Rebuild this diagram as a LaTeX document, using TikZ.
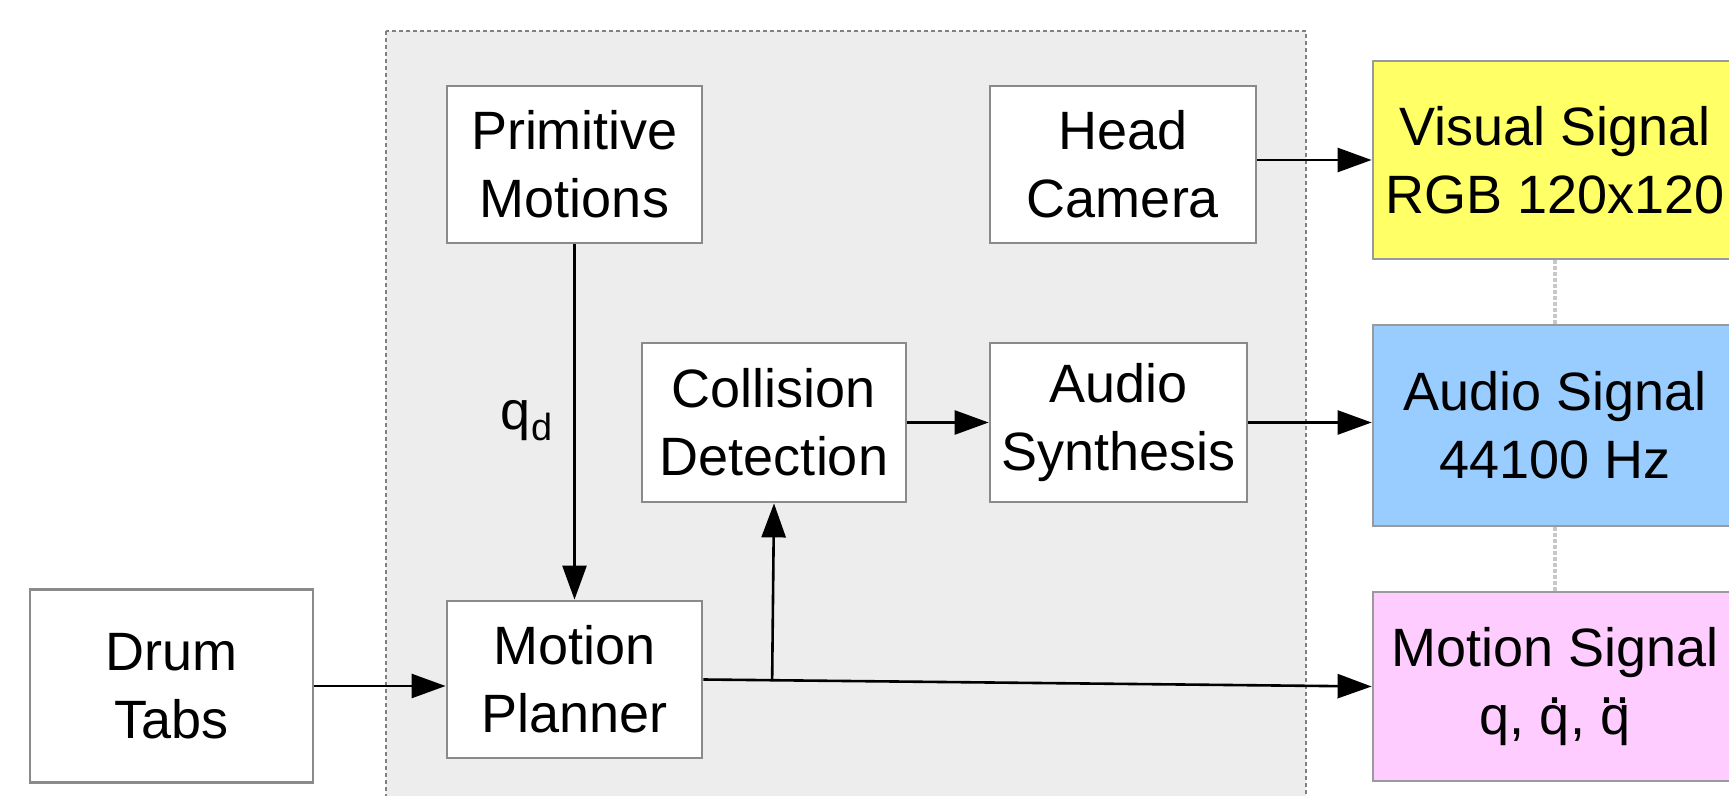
\documentclass[tikz,border=0pt]{standalone}
\usepackage{fontspec}
\setmainfont{Liberation Sans}
\usetikzlibrary{arrows.meta,calc}
\definecolor{bgfill}{HTML}{EDEDED}
\definecolor{bgline}{HTML}{808080}
\definecolor{boxgray}{HTML}{8A8A8A}
\definecolor{siggray}{HTML}{9A9A9A}
\definecolor{visfill}{HTML}{FFFF66}
\definecolor{audfill}{HTML}{99CCFF}
\definecolor{motfill}{HTML}{FFCCFF}
\definecolor{sepgray}{HTML}{C8C8C8}
\newcommand\qdotone{{\setbox0\hbox{q}\rlap{q}\hbox to\wd0{\hss\raisebox{0.58em}{.}\hss}}}
\newcommand\qdottwo{{\setbox0\hbox{q}\rlap{q}\hbox to\wd0{\hss\raisebox{0.58em}{.\kern0.03em.}\hss}}}
\begin{document}
\begin{tikzpicture}[x=0.5pt,y=-0.5pt,
  box/.style={draw=boxgray, line width=1.4pt, fill=white, align=center, inner sep=0pt,
    font=\fontsize{27pt}{34pt}\selectfont},
  sigbox/.style={box, draw=siggray, minimum width=182pt},
  conn/.style={line width=1.3pt, draw=black, -{Triangle[length=17pt,width=12pt]}},
  sep/.style={draw=sepgray, line width=2pt, dash pattern=on 2pt off 1pt},
  lbl/.style={inner sep=0pt, font=\fontsize{27pt}{34pt}\selectfont}
]
\useasboundingbox (0,0) rectangle (1729,796);
% background region
\path[fill=bgfill, draw=bgline, line width=1pt, dash pattern=on 2pt off 1.5pt]
  (386,31) rectangle (1306,810);
% nodes
\node[box, minimum width=127.5pt, minimum height=78.5pt] (prim) at (574.5,164.5) {Primitive\\Motions};
\node[box, minimum width=133pt, minimum height=78.5pt] (head) at (1123,164.5) {Head\\Camera};
\node[box, minimum width=132pt, minimum height=79.5pt] (coll) at (774,422.5) {Collision\\Detection};
\node[box, minimum width=128.5pt, minimum height=79.5pt] (synth) at (1118.5,422.5) {Audio\\Synthesis};
\node[box, minimum width=141.5pt, minimum height=96.5pt] (drum) at (171.5,686) {Drum\\Tabs};
\node[box, minimum width=127.5pt, minimum height=78.5pt] (plan) at (574.5,679.5) {Motion\\Planner};
\node[sigbox, fill=visfill, minimum height=99pt] (vis) at (1555,160) {Visual Signal\\RGB 120x120};
\node[sigbox, fill=audfill, minimum height=100.5pt] (aud) at (1555,425.5) {Audio Signal\\44100 Hz};
\node[sigbox, fill=motfill, minimum height=94.5pt] (mot) at (1555,686.5) {Motion Signal\\q, \qdotone, \qdottwo};
\node[lbl] (qd) at (527,421) {q\textsubscript{d}};
% separators between signal boxes
\draw[sep] (vis.south) -- (aud.north);
\draw[sep] (aud.south) -- (mot.north);
% connectors
\draw[conn] (prim.south) -- (plan.north);
\draw[conn] (drum.east) -- (drum.east -| plan.west);
\draw[conn] (plan.east) -- (mot.west);
\coordinate (br) at ($(plan.east)!(coll.south)!(mot.west)$);
\draw[conn] (br) -- (coll.south);
\draw[conn] (coll.east) -- (synth.west);
\draw[conn] (synth.east) -- (synth.east -| aud.west);
\draw[conn] (vis.west -| head.east) -- (vis.west);
\end{tikzpicture}
\end{document}
